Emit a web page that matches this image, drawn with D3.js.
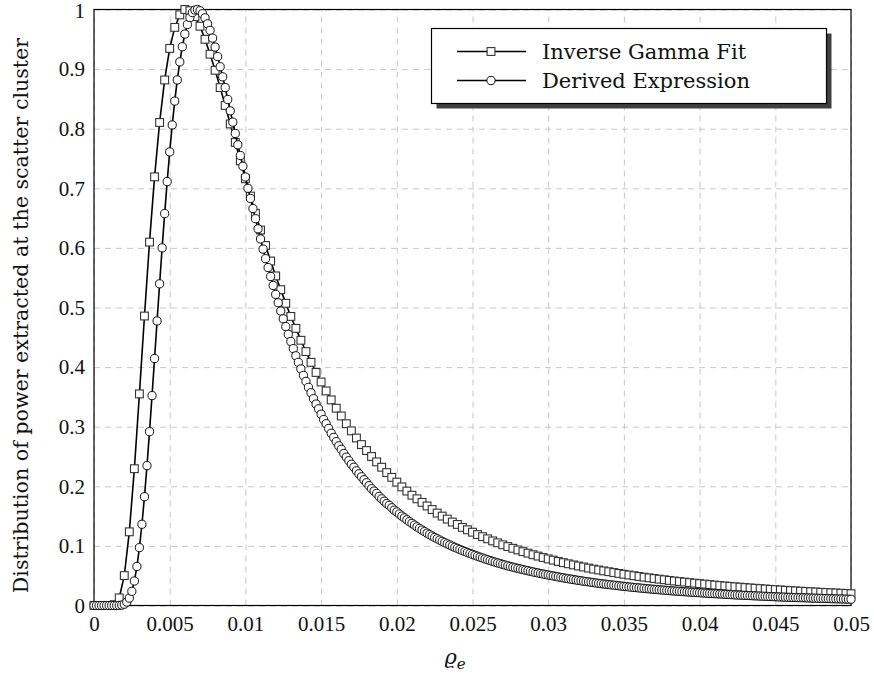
<!DOCTYPE html>
<html lang="en">
<head>
  <meta charset="UTF-8" />
  <title>Distribution of power extracted at the scatter cluster</title>
  <script src="https://d3js.org/d3.v7.min.js"></script>
  <style>
    body { margin: 0; background: #fff; }
    svg { display: block; }
    .tick-label text { font-family: "Liberation Serif", serif; font-size: 21px; fill: #111; }
    .grid line { stroke: #c8c8c8; stroke-width: 1; stroke-dasharray: 6 5; }
    .label { font-family: "DejaVu Serif", serif; fill: #111; }
  </style>
</head>
<body>
<div id="chart"></div>
<script>
// ---------- DATA (normalised so the peak is 1) ----------
const xMax = 0.05;

// Inverse Gamma Fit: 151 samples evenly spaced on [0, 0.05]
const gammaFit = [
  0, 0, 0, 0, 0.0014, 0.0128, 0.0502, 0.1236, 0.2295, 0.355,
  0.4857, 0.6097, 0.7192, 0.8104, 0.8818, 0.9347, 0.970, 0.991, 1.0, 0.998,
  0.988, 0.972, 0.950, 0.925, 0.898, 0.869, 0.839, 0.808, 0.777, 0.746,
  0.716, 0.687, 0.658, 0.630, 0.604, 0.578, 0.553, 0.530, 0.507, 0.485,
  0.465, 0.445, 0.426, 0.408, 0.391, 0.375, 0.360, 0.345, 0.331, 0.318,
  0.305, 0.293, 0.281, 0.270, 0.260, 0.250, 0.241, 0.232, 0.223, 0.215,
  0.207, 0.199, 0.192, 0.185, 0.179, 0.173, 0.167, 0.161, 0.155, 0.150,
  0.145, 0.140, 0.136, 0.131, 0.127, 0.123, 0.119, 0.1155, 0.1119, 0.1084,
  0.1052, 0.1019, 0.0989, 0.0960, 0.0932, 0.0904, 0.0878, 0.0852, 0.0829, 0.0805,
  0.0782, 0.0761, 0.0739, 0.0719, 0.0700, 0.0681, 0.0663, 0.0646, 0.0628, 0.0611,
  0.0596, 0.0581, 0.0567, 0.0553, 0.0538, 0.0524, 0.0512, 0.0500, 0.0487, 0.0475,
  0.0464, 0.0453, 0.0442, 0.0432, 0.0421, 0.0411, 0.0402, 0.0393, 0.0384, 0.0375,
  0.0367, 0.0359, 0.0351, 0.0343, 0.0335, 0.0328, 0.0321, 0.0314, 0.0308, 0.0301,
  0.0295, 0.0289, 0.0283, 0.0277, 0.0271, 0.0266, 0.0261, 0.0255, 0.0250, 0.0245,
  0.0240, 0.0236, 0.0231, 0.0227, 0.0222, 0.0218, 0.0214, 0.0210, 0.0206, 0.0202,
  0.0198
];

// Derived Expression: 301 samples evenly spaced on [0, 0.05]
const derivedExpr = [
  0, 0, 0, 0, 0, 0, 0, 0, 0, 0,
  0.0002, 0.0007, 0.0022, 0.0057, 0.0124, 0.0237, 0.0411, 0.0654, 0.0971, 0.1363,
  0.1825, 0.2347, 0.2917, 0.3522, 0.4144, 0.4774, 0.5397, 0.6001, 0.6576, 0.7113,
  0.7611, 0.8063, 0.8463, 0.8818, 0.9121, 0.9375, 0.9588, 0.9748, 0.9866, 0.9948,
  0.999, 1.0,
  0.998, 0.993, 0.986, 0.976, 0.965, 0.952, 0.937, 0.921, 0.904, 0.887,
  0.869, 0.849, 0.830, 0.811, 0.792, 0.773, 0.755, 0.737, 0.719, 0.700,
  0.683, 0.666, 0.649, 0.632, 0.615, 0.598, 0.582, 0.567, 0.552, 0.537,
  0.522, 0.508, 0.494, 0.481, 0.468, 0.455, 0.443, 0.431, 0.419, 0.408,
  0.397, 0.386, 0.376, 0.366, 0.357, 0.347, 0.338, 0.330, 0.321, 0.312,
  0.305, 0.297, 0.289, 0.282, 0.275, 0.268, 0.262, 0.255, 0.249, 0.243,
  0.237, 0.232, 0.226, 0.221, 0.216, 0.211, 0.206, 0.201, 0.196, 0.192,
  0.188, 0.183, 0.179, 0.175, 0.171, 0.168, 0.164, 0.160, 0.157, 0.1535,
  0.150, 0.147, 0.1438, 0.1407, 0.1378, 0.1349, 0.1320, 0.1293, 0.1266, 0.1240,
  0.1214, 0.1190, 0.1166, 0.1142, 0.1120, 0.1098, 0.1076, 0.1055, 0.1035, 0.1015,
  0.0995, 0.0976, 0.0958, 0.0940, 0.0923, 0.0906, 0.0889, 0.0873, 0.0857, 0.0842,
  0.0827, 0.0811, 0.0797, 0.0782, 0.0768, 0.0754, 0.0740, 0.0727, 0.0714, 0.0702,
  0.0690, 0.0678, 0.0666, 0.0655, 0.0644, 0.0633, 0.0623, 0.0612, 0.0602, 0.0592,
  0.0583, 0.0573, 0.0564, 0.0554, 0.0546, 0.0537, 0.0529, 0.0520, 0.0512, 0.0504,
  0.0496, 0.0489, 0.0480, 0.0471, 0.0464, 0.0456, 0.0449, 0.0442, 0.0435, 0.0428,
  0.0421, 0.0415, 0.0408, 0.0402, 0.0396, 0.0390, 0.0384, 0.0378, 0.0372, 0.0366,
  0.0361, 0.0356, 0.0351, 0.0346, 0.0341, 0.0336, 0.0331, 0.0326, 0.0321, 0.0317,
  0.0312, 0.0308, 0.0303, 0.0299, 0.0295, 0.0291, 0.0287, 0.0283, 0.0279, 0.0275,
  0.0271, 0.0268, 0.0264, 0.0260, 0.0257, 0.0253, 0.0250, 0.0246, 0.0243, 0.0240,
  0.0237, 0.0234, 0.0231, 0.0228, 0.0225, 0.0222, 0.0219, 0.0217, 0.0214, 0.0211,
  0.0208, 0.0206, 0.0203, 0.0201, 0.0198, 0.0196, 0.0193, 0.0191, 0.0188, 0.0186,
  0.0183, 0.0181, 0.0178, 0.0176, 0.0174, 0.0172, 0.0170, 0.0168, 0.0166, 0.0164,
  0.0162, 0.0160, 0.0158, 0.0156, 0.0154, 0.0152, 0.0150, 0.0149, 0.0147, 0.0145,
  0.0143, 0.0141, 0.0140, 0.0138, 0.0137, 0.0135, 0.0134, 0.0132, 0.0131, 0.0130,
  0.0128, 0.0127, 0.0125, 0.0124, 0.0123, 0.0121, 0.0120, 0.0118, 0.0117, 0.0116,
  0.0115, 0.0113, 0.0112, 0.0111, 0.0110, 0.0109, 0.0107, 0.0106, 0.0105
];

const xTicks = [0, 0.005, 0.01, 0.015, 0.02, 0.025, 0.03, 0.035, 0.04, 0.045, 0.05];
const xTickLabels = ["0", "0.005", "0.01", "0.015", "0.02", "0.025", "0.03", "0.035", "0.04", "0.045", "0.05"];
const yTicks = [0, 0.1, 0.2, 0.3, 0.4, 0.5, 0.6, 0.7, 0.8, 0.9, 1];
const yTickLabels = ["0", "0.1", "0.2", "0.3", "0.4", "0.5", "0.6", "0.7", "0.8", "0.9", "1"];
const seriesNames = ["Inverse Gamma Fit", "Derived Expression"];
const yLabel = "Distribution of power extracted at the scatter cluster";

// ---------- LAYOUT ----------
const W = 874, H = 674;
const plotL = 94, plotR = 851, plotT = 9.5, plotB = 605.5;

const svg = d3.select("#chart").append("svg").attr("width", W).attr("height", H);
svg.append("rect").attr("width", W).attr("height", H).attr("fill", "#fff");

const x = d3.scaleLinear().domain([0, xMax]).range([plotL, plotR]);
const y = d3.scaleLinear().domain([0, 1]).range([plotB, plotT]);

// pair each sample with its position on the evenly spaced grid
function toPoints(vals) {
  const step = xMax / (vals.length - 1);
  return vals.map((v, i) => [i * step, v]);
}
const gammaPts = toPoints(gammaFit);
const derivedPts = toPoints(derivedExpr);

// grid
const gx = svg.append("g").attr("class", "grid")
  .attr("transform", `translate(0,${plotB})`)
  .call(d3.axisBottom(x).tickValues(xTicks).tickSize(-(plotB - plotT)).tickFormat(""));
gx.select(".domain").remove();
const gy = svg.append("g").attr("class", "grid")
  .attr("transform", `translate(${plotL},0)`)
  .call(d3.axisLeft(y).tickValues(yTicks).tickSize(-(plotR - plotL)).tickFormat(""));
gy.select(".domain").remove();

// frame
svg.append("rect")
  .attr("x", plotL).attr("y", plotT)
  .attr("width", plotR - plotL).attr("height", plotB - plotT)
  .attr("fill", "none").attr("stroke", "#000").attr("stroke-width", 1.2);

// tick labels
const ax = svg.append("g").attr("class", "tick-label")
  .attr("transform", `translate(0,${plotB})`)
  .call(d3.axisBottom(x).tickValues(xTicks).tickSize(0).tickPadding(11)
    .tickFormat((d, i) => xTickLabels[i]));
ax.select(".domain").remove();

const ay = svg.append("g").attr("class", "tick-label")
  .attr("transform", `translate(${plotL},0)`)
  .call(d3.axisLeft(y).tickValues(yTicks).tickSize(0).tickPadding(9)
    .tickFormat((d, i) => yTickLabels[i]));
ay.select(".domain").remove();
// keep the top label inside the picture
ay.selectAll(".tick text").filter((d, i) => i === yTicks.length - 1).attr("dy", "0.38em");

// axis labels
svg.append("text").attr("class", "label")
  .attr("transform", `translate(28,${(plotT + plotB) / 2 + 8}) rotate(-90)`)
  .attr("text-anchor", "middle")
  .style("font-size", "20.6px")
  .text(yLabel);

const xl = svg.append("text").attr("class", "label")
  .attr("x", 455).attr("y", 664)
  .attr("text-anchor", "middle")
  .style("font-size", "21px").style("font-style", "italic");
xl.append("tspan").text("ϱ");
xl.append("tspan").attr("dy", 5).style("font-size", "15px").text("e");

// series
const line = d3.line().x(d => x(d[0])).y(d => y(d[1]));
const sq = 7.8, cr = 4.1;

function drawSquares(g, pts) {
  g.selectAll("rect").data(pts).join("rect")
    .attr("x", d => x(d[0]) - sq / 2).attr("y", d => y(d[1]) - sq / 2)
    .attr("width", sq).attr("height", sq)
    .attr("fill", "#fff").attr("stroke", "#333").attr("stroke-width", 1.1);
}
function drawCircles(g, pts) {
  g.selectAll("circle").data(pts).join("circle")
    .attr("cx", d => x(d[0])).attr("cy", d => y(d[1])).attr("r", cr)
    .attr("fill", "#fff").attr("stroke", "#111").attr("stroke-width", 1);
}

const s1 = svg.append("g");
s1.append("path").datum(gammaPts).attr("d", line)
  .attr("fill", "none").attr("stroke", "#000").attr("stroke-width", 1.6);
drawSquares(s1.append("g"), gammaPts);

const s2 = svg.append("g");
s2.append("path").datum(derivedPts).attr("d", line)
  .attr("fill", "none").attr("stroke", "#000").attr("stroke-width", 1.6);
drawCircles(s2.append("g"), derivedPts);

// legend
const lg = svg.append("g");
lg.append("rect").attr("x", 436.5).attr("y", 33.5).attr("width", 395).attr("height", 75)
  .attr("fill", "#404040");
lg.append("rect").attr("x", 431.5).attr("y", 28.5).attr("width", 395).attr("height", 75)
  .attr("fill", "#fff").attr("stroke", "#000").attr("stroke-width", 1.2);

const rows = [51.5, 80.5];
seriesNames.forEach((name, i) => {
  const ry = rows[i];
  lg.append("line").attr("x1", 457).attr("x2", 526).attr("y1", ry).attr("y2", ry)
    .attr("stroke", "#000").attr("stroke-width", 1.6);
  if (i === 0) {
    lg.append("rect").attr("x", 491 - sq / 2).attr("y", ry - sq / 2)
      .attr("width", sq).attr("height", sq)
      .attr("fill", "#fff").attr("stroke", "#333").attr("stroke-width", 1.1);
  } else {
    lg.append("circle").attr("cx", 491).attr("cy", ry).attr("r", cr)
      .attr("fill", "#fff").attr("stroke", "#111").attr("stroke-width", 1);
  }
  lg.append("text").attr("class", "label")
    .attr("x", 542).attr("y", ry + 7.5)
    .style("font-size", "21px")
    .text(name);
});
</script>
</body>
</html>
